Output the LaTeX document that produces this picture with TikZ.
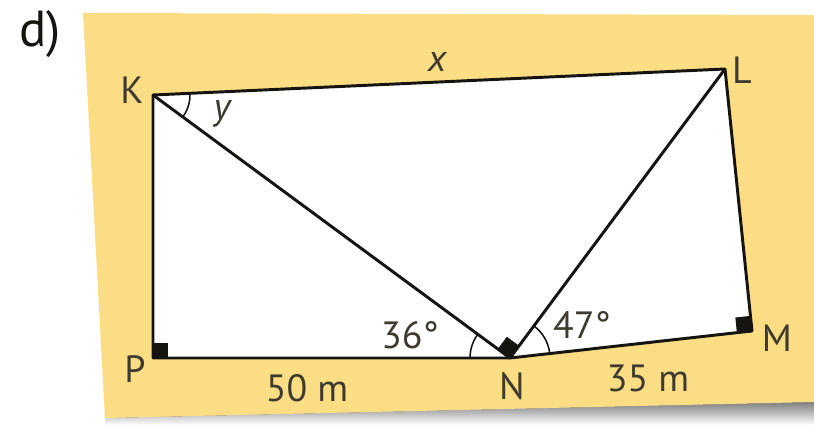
\documentclass[tikz,border=0pt]{standalone}
\usepackage{fontspec}
\setmainfont{PT Sans}
\usepackage{xcolor}
\usetikzlibrary{calc}
\definecolor{paper}{RGB}{251,222,132}
\definecolor{shade}{RGB}{236,235,232}
\definecolor{ink}{RGB}{22,20,16}
\definecolor{labelgray}{RGB}{62,58,48}

% filled right-angle mark at #1 between the sides to #2 and #3
\newcommand{\rightsq}[3]{%
  \coordinate (#1a) at ($(#1)!0.38cm!(#2)$);
  \coordinate (#1b) at ($(#1)!0.38cm!(#3)$);
  \fill[ink] (#1) -- (#1a) -- ($(#1a)+(#1b)-(#1)$) -- (#1b) -- cycle;}

\begin{document}
\begin{tikzpicture}[x=0.025cm, y=0.025cm]
  \tikzstyle{vlabel} = [text=labelgray, font=\fontsize{27}{30}\selectfont, inner sep=0pt]
  \tikzstyle{side} = [draw=ink, line width=2.1pt, line join=round]
  \tikzstyle{anglearc} = [draw=ink, line width=1.1pt]

  \useasboundingbox (0,0) rectangle (814,425);
  \fill[white] (0,0) rectangle (814,425);
  \fill[shade] (105,0) -- (105,7) -- (814,23) -- (814,0) -- cycle;
  \fill[paper] (83,412) -- (814,410) -- (814,23) -- (105,7) -- cycle;

  \coordinate (K) at (153,330);
  \coordinate (L) at (725,356);
  \coordinate (P) at (153,67);
  \coordinate (N) at (510,67);
  \coordinate (M) at (752,94);

  \fill[white] (K) -- (L) -- (M) -- (N) -- (P) -- cycle;

  % angle marks
  \draw[anglearc] ($(N)+(180:40)$) arc[start angle=180, end angle=143.6, radius=1cm];
  \draw[anglearc] ($(N)+(6.4:40)$) arc[start angle=6.4, end angle=53.4, radius=1cm];
  \draw[anglearc] ($(K)+(-36.4:37)$) arc[start angle=-36.4, end angle=2.6, radius=0.925cm];

  \rightsq{P}{K}{N}
  \rightsq{N}{K}{L}
  \rightsq{M}{N}{L}

  \draw[side] (K) -- (L) -- (M) -- (N) -- (P) -- cycle;
  \draw[side] (K) -- (N) -- (L);

  \node[vlabel, font=\fontsize{36}{40}\selectfont, text=ink] (part) at (40,391) {d)};
  \node[vlabel] (lK) at (132,335) {K};
  \node[vlabel] (lL) at (742,355) {L};
  \node[vlabel] (lP) at (135,56) {P};
  \node[vlabel] (lN) at (512,39) {N};
  \node[vlabel] (lM) at (777,87) {M};
  \node[vlabel] (lx) at (437,363) {\itshape x};
  \node[vlabel] (ly) at (222,311) {\itshape y};
  \node[vlabel] (a36) at (410,90) {36°};
  \node[vlabel] (a47) at (582,100) {47°};
  \node[vlabel] (dPN) at (307,37) {50 m};
  \node[vlabel] (dNM) at (648,47) {35 m};
\end{tikzpicture}
\end{document}
